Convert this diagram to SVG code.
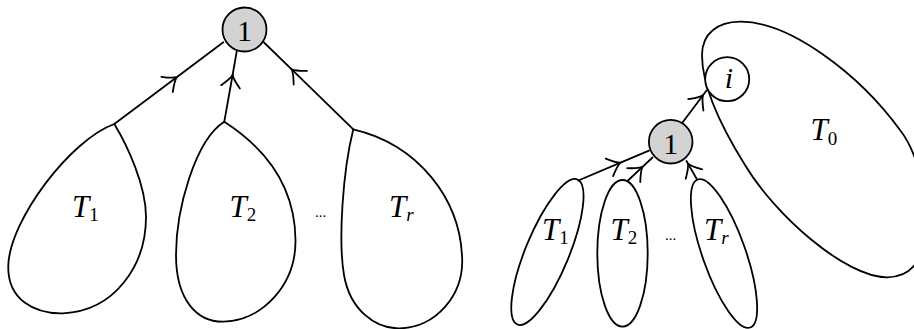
<svg xmlns="http://www.w3.org/2000/svg" width="914" height="329" viewBox="0 0 914 329">
<style>
.ln{fill:none;stroke:#000;stroke-width:1.8;stroke-linejoin:round;stroke-linecap:round}
.blob{fill:none;stroke:#000;stroke-width:1.8}
.nd{fill:#d3d3d3;stroke:#000;stroke-width:1.8}
.nw{fill:#fff;stroke:#000;stroke-width:1.8}
.num{font-family:"Liberation Serif","DejaVu Serif","Times New Roman",serif;font-size:30px;fill:#000;text-anchor:middle}
.lbl{font-family:"Liberation Serif","DejaVu Serif","Times New Roman",serif;font-style:italic;font-size:31px;fill:#000}
.sub{font-style:normal;font-size:19px}
.subi{font-style:italic;font-size:19px}
.dots{font-family:"Liberation Serif","DejaVu Serif",serif;font-size:15px;fill:#000}
</style>
<defs>
<marker id="arr" viewBox="-14 -11 16 22" markerWidth="16" markerHeight="22" refX="0" refY="0" orient="auto" markerUnits="userSpaceOnUse">
<path d="M-12,-9.5 Q-4,-1.5 0,0 Q-4,1.5 -12,9.5" fill="none" stroke="#000" stroke-width="1.8" stroke-linecap="round"/>
</marker>
</defs>
<rect width="914" height="329" fill="#fff"/>

<g id="connectors">
<path class="ln" marker-mid="url(#arr)" d="M114.3,124 L176.7,77.2 L223.3,42.3"/>
<path class="ln" marker-mid="url(#arr)" d="M224.3,121.7 L232.6,75 L236.7,51.7"/>
<path class="ln" marker-mid="url(#arr)" d="M353.3,129.3 L291.7,69.4 L264,42.5"/>
<path class="ln" marker-mid="url(#arr)" d="M578.3,180.5 L620.5,162.7 L649,150.7"/>
<path class="ln" marker-mid="url(#arr)" d="M627.5,181 L642.5,166.9 L652.5,157.5"/>
<path class="ln" marker-mid="url(#arr)" d="M697,179.5 L688,163.6 L686.5,161"/>
<path class="ln" marker-mid="url(#arr)" d="M682.5,122.5 L703,95.2 L706.5,90.5"/>
</g>

<g id="left-T1">
<path class="blob" d="M114.3,124 C70,140 10,220 8.3,265 C7,300 35,314 63,313.3 C115,311 146,265 146,217 C146,185 127,145 114.3,124 Z"/>
<text class="lbl" x="72" y="217">T<tspan class="sub" dy="4">1</tspan></text>
</g>
<g id="left-T2">
<path class="blob" d="M224.3,121.7 C195,140 176,210 176,255 C176,300 197,322 223.3,321.7 C262,321 296,285 295.5,240 C295,185 265,148 224.3,121.7 Z"/>
<text class="lbl" x="229.5" y="217">T<tspan class="sub" dy="4">2</tspan></text>
</g>
<text id="left-dots" class="dots" x="315" y="217">...</text>
<g id="left-Tr">
<path class="blob" d="M353.3,129.3 C343,170 338,240 344,275 C350,310 375,328 398,328.3 C435,329 465,295 462,255 C459,200 420,145 353.3,129.3 Z"/>
<text class="lbl" x="389" y="217">T<tspan class="subi" dy="4">r</tspan></text>
</g>
<g id="left-node-1">
<circle class="nd" cx="244.5" cy="29.5" r="22"/>
<text class="num" x="244.5" y="41">1</text>
</g>

<g id="right-T0">
<path class="blob" d="M740,21.7 C790,21 860,75 900,130 C928,165 948,278 886.7,277.3 C845,277 775,215 745,165 C720,125 702,85 702,55 C702,33 718,22 740,21.7 Z"/>
<text class="lbl" x="810.5" y="140">T<tspan class="sub" dy="5">0</tspan></text>
</g>
<g id="right-T1">
<ellipse class="blob" cx="547.4" cy="252" rx="21.7" ry="78.5" transform="rotate(22.5 547.4 252)"/>
<text class="lbl" x="542" y="240">T<tspan class="sub" dy="4">1</tspan></text>
</g>
<g id="right-T2">
<ellipse class="blob" cx="622.5" cy="253.3" rx="25.2" ry="73.3"/>
<text class="lbl" x="610.5" y="240">T<tspan class="sub" dy="4">2</tspan></text>
</g>
<text id="right-dots" class="dots" x="665" y="240">...</text>
<g id="right-Tr">
<ellipse class="blob" cx="724" cy="253.5" rx="21.5" ry="78.5" transform="rotate(-19.5 724 253.5)"/>
<text class="lbl" x="704" y="240">T<tspan class="subi" dy="4">r</tspan></text>
</g>
<g id="right-node-1">
<circle class="nd" cx="670.7" cy="141.7" r="21.8"/>
<text class="num" x="670.7" y="154">1</text>
</g>
<g id="node-i">
<circle class="nw" cx="727.2" cy="79.2" r="22"/>
<text class="num" x="729" y="88" font-style="italic">i</text>
</g>
</svg>
